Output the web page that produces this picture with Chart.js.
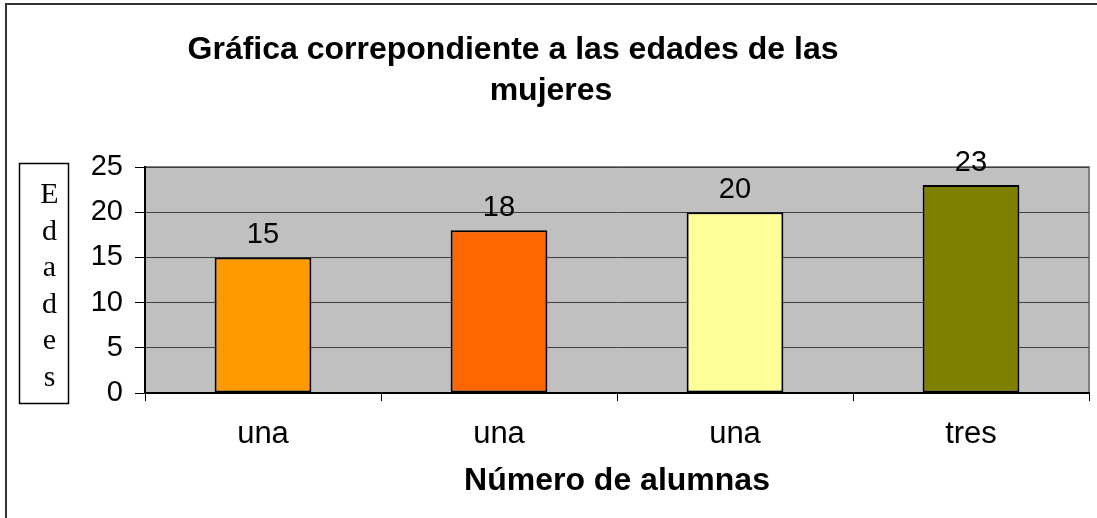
<!DOCTYPE html>
<html lang="es">
<head>
<meta charset="UTF-8">
<title>Edades de las mujeres</title>
<script src="https://cdn.jsdelivr.net/npm/chart.js"></script>
<style>
  html, body { margin: 0; padding: 0; background: #fff; }
  #grafico { display: block; }
</style>
</head>
<body>
<canvas id="grafico" width="1097" height="518"></canvas>
<script>
// datos
const categorias = ['una', 'una', 'una', 'tres'];
const edades = [15, 18, 20, 23];
const colores = ['#FF9900', '#FF6600', '#FFFF99', '#808000'];
const ticksY = [0, 5, 10, 15, 20, 25];
const tituloLineas = ['Gráfica correpondiente a las edades de las', 'mujeres'];
const tituloEjeY = ['E', 'd', 'a', 'd', 'e', 's'];
const tituloEjeX = 'Número de alumnas';

const fuente = '"Liberation Sans", Arial, sans-serif';

// fondo gris del area, marco, titulo y caja del eje Y
const decoracion = {
  id: 'decoracion',
  beforeDraw(chart) {
    const { ctx, chartArea: a } = chart;
    ctx.save();
    ctx.fillStyle = '#C0C0C0';
    ctx.fillRect(a.left, a.top, a.right - a.left, a.bottom - a.top);
    ctx.strokeStyle = '#808080';
    ctx.lineWidth = 2;
    ctx.beginPath();
    ctx.moveTo(a.left, a.top);
    ctx.lineTo(a.right, a.top);
    ctx.lineTo(a.right, a.bottom);
    ctx.stroke();
    ctx.restore();
  },
  afterDraw(chart) {
    const { ctx } = chart;
    ctx.save();
    // marco exterior (solo arriba e izquierda)
    ctx.strokeStyle = '#333';
    ctx.lineWidth = 2;
    ctx.beginPath();
    ctx.moveTo(6, 518);
    ctx.lineTo(6, 4);
    ctx.lineTo(1097, 4);
    ctx.stroke();

    // titulo
    ctx.fillStyle = '#000';
    ctx.font = 'bold 32px ' + fuente;
    ctx.textAlign = 'center';
    ctx.textBaseline = 'alphabetic';
    ctx.fillText(tituloLineas[0], 513, 59);
    ctx.fillText(tituloLineas[1], 551, 100);

    // caja del titulo del eje Y
    ctx.lineWidth = 1.5;
    ctx.strokeStyle = '#000';
    ctx.strokeRect(19.5, 163.5, 49, 240);
    ctx.font = '30px "Liberation Serif", "Times New Roman", serif';
    tituloEjeY.forEach((l, i) => {
      ctx.fillText(l, 49.5, 203 + i * 36.5);
    });
    ctx.restore();
  }
};

// etiquetas de valor encima de cada barra
const etiquetas = {
  id: 'etiquetas',
  afterDatasetsDraw(chart) {
    const { ctx } = chart;
    const meta = chart.getDatasetMeta(0);
    ctx.save();
    ctx.fillStyle = '#000';
    ctx.font = '29px ' + fuente;
    ctx.textAlign = 'center';
    ctx.textBaseline = 'alphabetic';
    meta.data.forEach((bar, i) => {
      ctx.fillText(String(edades[i]), bar.x, bar.y - 14);
    });
    ctx.restore();
  }
};

const grafico = new Chart(document.getElementById('grafico').getContext('2d'), {
  type: 'bar',
  data: {
    labels: categorias,
    datasets: [{
      data: edades,
      backgroundColor: colores,
      borderColor: '#000',
      borderWidth: 2,
      borderSkipped: false,
      categoryPercentage: 1,
      barPercentage: 0.41
    }]
  },
  options: {
    responsive: false,
    animation: false,
    layout: { padding: { top: 167, right: 8, left: 0, bottom: 0 } },
    plugins: {
      legend: { display: false },
      title: { display: false },
      tooltip: { enabled: false }
    },
    scales: {
      x: {
        afterFit(scale) { scale.height = 125; },
        grid: {
          offset: true,
          drawOnChartArea: false,
          drawTicks: true,
          tickLength: 8,
          tickColor: '#000',
          color: '#000'
        },
        border: { color: '#000', width: 2 },
        ticks: {
          color: '#000',
          padding: 15,
          font: { family: fuente, size: 31 }
        },
        title: {
          display: true,
          text: tituloEjeX,
          color: '#000',
          padding: { top: 0, bottom: 18 },
          font: { family: fuente, size: 32, weight: 'bold' }
        }
      },
      y: {
        min: 0,
        max: 25,
        afterFit(scale) { scale.width = 145; },
        afterBuildTicks(scale) { scale.ticks = ticksY.map(v => ({ value: v })); },
        grid: {
          color: '#404040',
          lineWidth: 1,
          tickLength: 10,
          tickColor: '#000'
        },
        border: { color: '#000', width: 2 },
        ticks: {
          color: '#000',
          padding: 12,
          font: { family: fuente, size: 29 }
        }
      }
    }
  },
  plugins: [decoracion, etiquetas]
});
</script>
</body>
</html>
